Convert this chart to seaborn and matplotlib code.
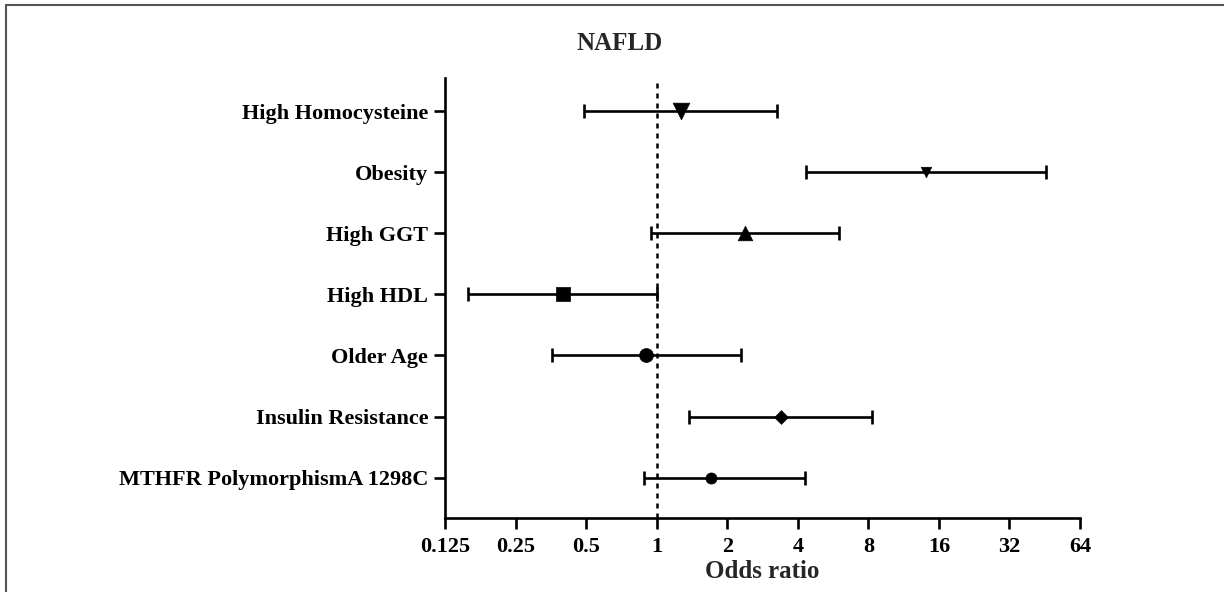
import matplotlib
matplotlib.use("Agg")
import matplotlib.pyplot as plt
import seaborn as sns
import pandas as pd
import numpy as np
from matplotlib.lines import Line2D

categories = ["High Homocysteine", "Obesity", "High GGT", "High HDL",
              "Older Age", "Insulin Resistance", "MTHFR PolymorphismA 1298C"]
odds = [1.27, 14.1, 2.38, 0.40, 0.90, 3.38, 1.70]
lower = [0.49, 4.35, 0.95, 0.157, 0.357, 1.38, 0.88]
upper = [3.25, 46.0, 5.97, 1.0, 2.29, 8.28, 4.30]
markers = ["v", "v", "^", "s", "o", "D", "o"]
msizes = [12, 7.5, 10.5, 10, 10, 7, 8]
xticks = [0.125, 0.25, 0.5, 1, 2, 4, 8, 16, 32, 64]
xticklabels = ["0.125", "0.25", "0.5", "1", "2", "4", "8", "16", "32", "64"]

df = pd.DataFrame({"cat": categories, "odds": odds, "lower": lower, "upper": upper})

sns.set_theme(style="ticks")
plt.rcParams["font.family"] = ["Liberation Serif", "DejaVu Serif"]
plt.rcParams["font.weight"] = "bold"

fig = plt.figure(figsize=(12.24, 5.92), dpi=100)
ax = fig.add_axes([445/1224, 74/592, (1080-445)/1224, (518-78)/592])

ypos = np.arange(len(categories))
ax.errorbar(df["odds"], ypos,
            xerr=[df["odds"] - df["lower"], df["upper"] - df["odds"]],
            fmt="none", ecolor="black", elinewidth=1.9, capsize=5, capthick=1.9, zorder=2)
for i in range(len(categories)):
    sub = df.iloc[[i]].assign(y=[ypos[i]])
    sns.scatterplot(data=sub, x="odds", y="y", marker=markers[i],
                    s=msizes[i] ** 2, color="black", edgecolor="black",
                    linewidth=0.5, ax=ax, zorder=3, legend=False)

ax.axvline(1, color="black", lw=1.8, ls=(0, (2, 2)), zorder=1)

ax.set_xscale("log", base=2)
ax.set_xlim(0.125, 64)
ax.set_xticks(xticks)
ax.set_xticklabels(xticklabels)
ax.minorticks_off()
ax.set_ylim(len(categories) - 1 + 0.66, -0.54)
ax.set_yticks(ypos)
ax.set_yticklabels(categories)

for s in ["top", "right"]:
    ax.spines[s].set_visible(False)
for s in ["left", "bottom"]:
    ax.spines[s].set_linewidth(1.9)
    ax.spines[s].set_color("black")
ax.tick_params(axis="both", width=1.9, length=8, colors="black",
               labelsize=16, pad=4)
ax.tick_params(axis="x", pad=6)
for lab in ax.get_xticklabels() + ax.get_yticklabels():
    lab.set_fontweight("bold")

ax.set_xlabel("Odds ratio", fontsize=18, fontweight="bold", labelpad=2)
ax.set_ylabel("")
fig.text(620/1224, 1 - 43/592, "NAFLD", ha="center", va="center",
         fontsize=18, fontweight="bold")

# figure frame (top and left edges visible)
fig.add_artist(Line2D([6/1224, 1], [1 - 5/592, 1 - 5/592], transform=fig.transFigure,
                      color="#555555", lw=1.5))
fig.add_artist(Line2D([6/1224, 6/1224], [0, 1 - 5/592], transform=fig.transFigure,
                      color="#555555", lw=1.5))

fig.savefig("out.png", dpi=100, facecolor="white")
